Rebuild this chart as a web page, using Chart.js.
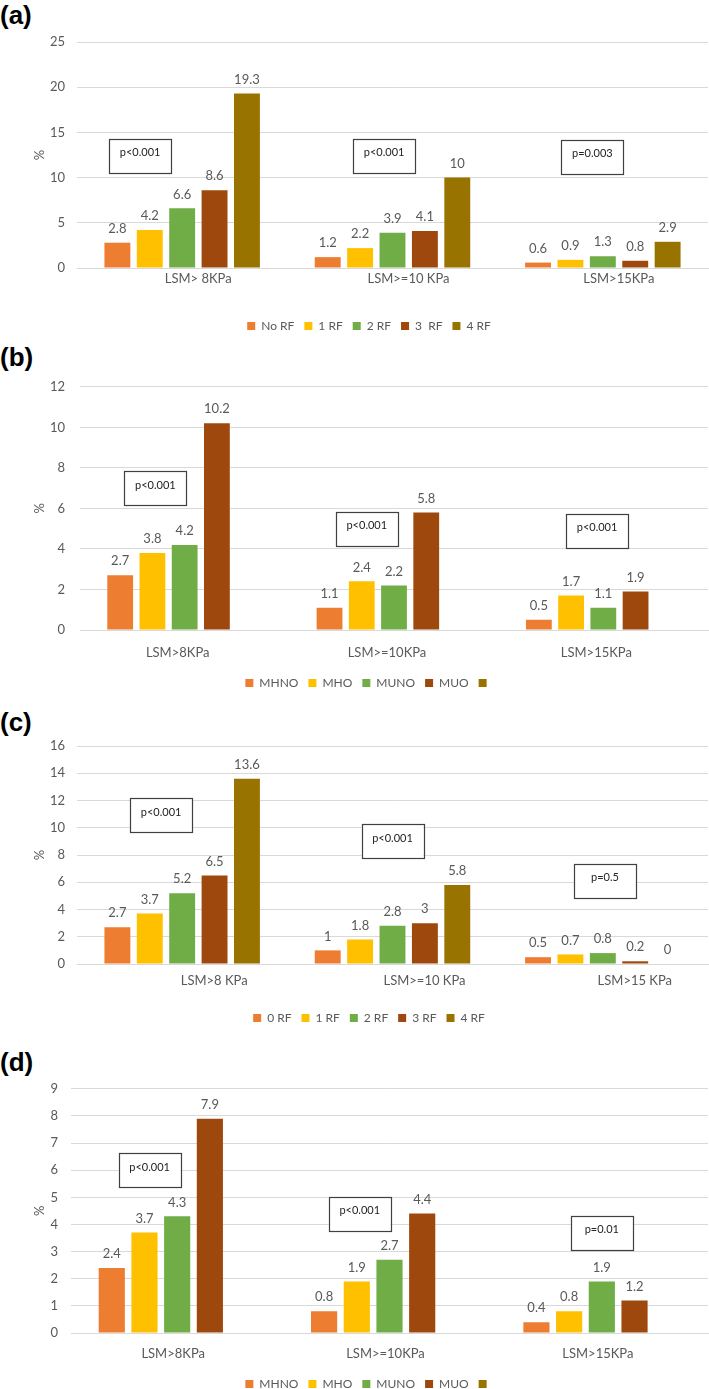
<!DOCTYPE html>
<html>
<head>
<meta charset="utf-8">
<script src="https://cdn.jsdelivr.net/npm/chart.js@4.4.1/dist/chart.umd.min.js"></script>
<style>
  body { margin: 0; width: 709px; height: 1389px; overflow: hidden; background: #fff; position: relative; }
  .panel-label { position: absolute; left: 0; font: bold 26px "Liberation Sans", Arial, sans-serif; line-height: 30px; color: #000; }
  canvas { position: absolute; left: 30px; }
</style>
</head>
<body>
<div class="panel-label" style="top:0px">(a)</div>
<div class="panel-label" style="top:342px">(b)</div>
<div class="panel-label" style="top:707px">(c)</div>
<div class="panel-label" style="top:1047px">(d)</div>
<canvas id="chartA" width="679" height="320" style="top:22px"></canvas>
<canvas id="chartB" width="679" height="335" style="top:364px"></canvas>
<canvas id="chartC" width="679" height="308" style="top:726px"></canvas>
<canvas id="chartD" width="679" height="332" style="top:1068px"></canvas>
<script>
// (a) risk factor count
const categoriesA = ['LSM> 8KPa', 'LSM>=10 KPa', 'LSM>15KPa'];
const seriesA = ['No RF', '1 RF', '2 RF', '3  RF', '4 RF'];
const valuesA = [
  [2.8, 1.2, 0.6],
  [4.2, 2.2, 0.9],
  [6.6, 3.9, 1.3],
  [8.6, 4.1, 0.8],
  [19.3, 10, 2.9]
];
const pTextA = ['p<0.001', 'p<0.001', 'p=0.003'];

// (b) metabolic phenotype
const categoriesB = ['LSM>8KPa', 'LSM>=10KPa', 'LSM>15KPa'];
const seriesB = ['MHNO', 'MHO', 'MUNO', 'MUO', ''];
const valuesB = [
  [2.7, 1.1, 0.5],
  [3.8, 2.4, 1.7],
  [4.2, 2.2, 1.1],
  [10.2, 5.8, 1.9],
  []
];
const pTextB = ['p<0.001', 'p<0.001', 'p<0.001'];

// (c) risk factor count
const categoriesC = ['LSM>8 KPa', 'LSM>=10 KPa', 'LSM>15 KPa'];
const seriesC = ['0 RF', '1 RF', '2 RF', '3 RF', '4 RF'];
const valuesC = [
  [2.7, 1, 0.5],
  [3.7, 1.8, 0.7],
  [5.2, 2.8, 0.8],
  [6.5, 3, 0.2],
  [13.6, 5.8, 0]
];
const pTextC = ['p<0.001', 'p<0.001', 'p=0.5'];

// (d) metabolic phenotype
const categoriesD = ['LSM>8KPa', 'LSM>=10KPa', 'LSM>15KPa'];
const seriesD = ['MHNO', 'MHO', 'MUNO', 'MUO', ''];
const valuesD = [
  [2.4, 0.8, 0.4],
  [3.7, 1.9, 0.8],
  [4.3, 2.7, 1.9],
  [7.9, 4.4, 1.2],
  []
];
const pTextD = ['p<0.001', 'p<0.001', 'p=0.01'];

const barColors = ['#ED7D31', '#FFC000', '#70AD47', '#9E480E', '#997300'];
const textGray = '#595959';

Chart.defaults.font.family = 'Lato, "Open Sans", sans-serif';

// value printed above every bar
const valueLabels = {
  id: 'valueLabels',
  afterDatasetsDraw(chart) {
    const ctx = chart.ctx;
    ctx.save();
    ctx.font = '13px Lato';
    ctx.fillStyle = textGray;
    ctx.textAlign = 'center';
    ctx.textBaseline = 'middle';
    chart.data.datasets.forEach((ds, i) => {
      chart.getDatasetMeta(i).data.forEach((bar, j) => {
        const v = ds.data[j];
        if (v === null || v === undefined) return;
        ctx.fillText(String(v), bar.x, bar.y - 14);
      });
    });
    ctx.restore();
  }
};

// boxed p-value notes, placed in scale units (category index, %)
const pBoxes = {
  id: 'pBoxes',
  afterDatasetsDraw(chart, args, opts) {
    const {ctx, scales: {x, y}} = chart;
    ctx.save();
    (opts.items || []).forEach(b => {
      const cx = x.getPixelForValue(b.at[0]);
      const cy = y.getPixelForValue(b.at[1]);
      const w = 62, h = 34;
      ctx.fillStyle = '#fff';
      ctx.fillRect(cx - w / 2, cy - h / 2, w, h);
      ctx.strokeStyle = '#404040';
      ctx.lineWidth = 1.2;
      ctx.strokeRect(Math.round(cx - w / 2) + 0.5, Math.round(cy - h / 2) + 0.5, w, h);
      ctx.fillStyle = '#222';
      ctx.font = '11px Lato';
      ctx.textAlign = 'center';
      ctx.textBaseline = 'middle';
      ctx.fillText(b.text, cx, cy - 3);
    });
    ctx.restore();
  }
};

function makeChart(id, p) {
  return new Chart(document.getElementById(id), {
    type: 'bar',
    data: {
      labels: p.categories,
      datasets: p.series.map((name, i) => ({
        label: name,
        data: p.values[i],
        backgroundColor: barColors[i],
        categoryPercentage: 0.77,
        barPercentage: 0.8
      }))
    },
    options: {
      responsive: false,
      animation: false,
      layout: { padding: { top: 20, right: 1, left: 0, bottom: 0 } },
      scales: {
        x: {
          grid: { display: false, drawTicks: false },
          border: { color: '#d9d9d9' },
          ticks: { color: textGray, font: { size: 13 }, padding: p.xPad, labelOffset: p.xShift, maxRotation: 0 },
          afterFit: s => { s.height = p.xHeight; }
        },
        y: {
          min: 0,
          max: p.yMax,
          ticks: { stepSize: p.yStep, color: textGray, font: { size: 13 }, padding: p.yPad },
          grid: { color: '#d9d9d9', drawTicks: false },
          border: { display: false },
          title: { display: true, text: '%', color: textGray, font: { size: 13 }, padding: { top: 2, bottom: 0 } },
          afterFit: s => { s.width = p.plotLeft - 30; }
        }
      },
      plugins: {
        legend: {
          position: 'bottom',
          labels: { boxWidth: 8, boxHeight: 8, color: textGray, font: { size: 12 }, padding: 10 }
        },
        tooltip: { enabled: false },
        pBoxes: { items: p.pText.map((t, i) => ({ text: t, at: p.pAt[i] })) }
      }
    },
    plugins: [valueLabels, pBoxes]
  });
}

makeChart('chartA', {
  categories: categoriesA, series: seriesA, values: valuesA, pText: pTextA,
  pAt: [[-0.2, 12.4], [0.96, 12.4], [1.95, 12.3]],
  yMax: 25, yStep: 5, yPad: 12, plotLeft: 77,
  xPad: 3, xShift: 16, xHeight: 42
});

makeChart('chartB', {
  categories: categoriesB, series: seriesB, values: valuesB, pText: pTextB,
  pAt: [[-0.14, 7.0], [0.87, 5.0], [1.97, 4.9]],
  yMax: 12, yStep: 2, yPad: 15, plotLeft: 80,
  xPad: 15, xShift: -7, xHeight: 37
});

makeChart('chartC', {
  categories: categoriesC, series: seriesC, values: valuesC, pText: pTextC,
  pAt: [[-0.1, 10.9], [1.0, 9.0], [2.01, 6.1]],
  yMax: 16, yStep: 2, yPad: 12, plotLeft: 77,
  xPad: 9, xShift: 32, xHeight: 38
});

makeChart('chartD', {
  categories: categoriesD, series: seriesD, values: valuesD, pText: pTextD,
  pAt: [[-0.13, 6.0], [0.86, 4.4], [2.0, 3.7]],
  yMax: 9, yStep: 1, yPad: 13, plotLeft: 71,
  xPad: 13, xShift: -4, xHeight: 35
});
</script>
</body>
</html>
